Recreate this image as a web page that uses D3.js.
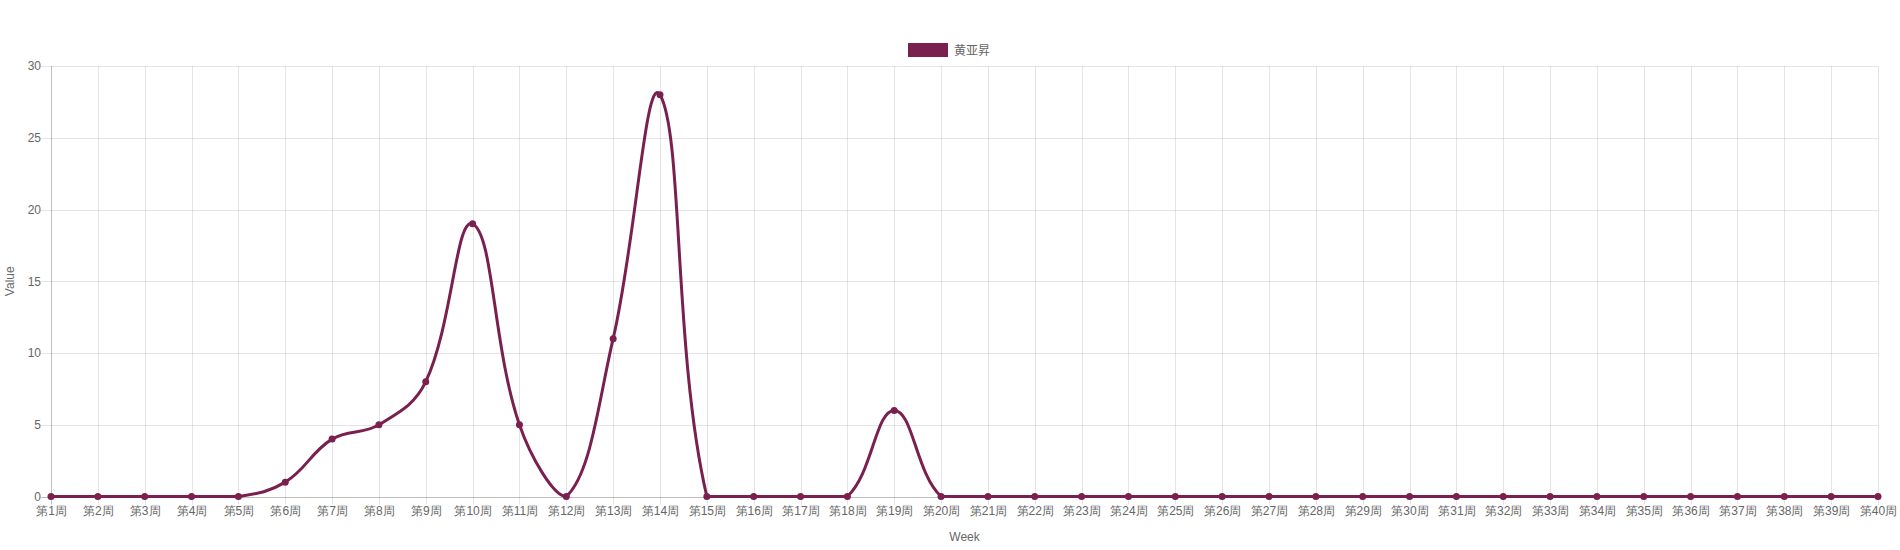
<!DOCTYPE html>
<html><head><meta charset="utf-8">
<script src="https://cdn.jsdelivr.net/npm/d3@7"></script>
<style>
html,body{margin:0;padding:0;background:#fff;}
svg{display:block;font-family:'Helvetica Neue',Helvetica,Arial,'Liberation Sans','Noto Sans CJK SC',sans-serif;}
</style></head>
<body>
<svg id="chart" width="1900" height="550"></svg>
<script>
const weeks = Array.from({length: 40}, (_, i) => `第${i + 1}周`);
const seriesName = "黄亚昇";
const values = [0,0,0,0,0,1,4,5,8,19,5,0,11,28,0,0,0,0,6,0,0,0,0,0,0,0,0,0,0,0,0,0,0,0,0,0,0,0,0,0];
const yTicks = [0,5,10,15,20,25,30];

(function(){
const color = "rgb(122,32,80)";
const pLeft = 51, pRight = 1878, pTop = 66, pBottom = 496.5;
const svg = d3.select("#chart");

const x = d3.scalePoint().domain(weeks).range([pLeft, pRight]);
const y = d3.scaleLinear().domain([0, 30]).range([pBottom, pTop]);

const g = svg.append("g");
g.selectAll("line.vg").data(weeks).join("line")
  .attr("x1", d => Math.round(x(d)) + 0.5).attr("x2", d => Math.round(x(d)) + 0.5)
  .attr("y1", pTop).attr("y2", pBottom + 8)
  .attr("stroke", (d,i) => i === 0 ? "rgba(0,0,0,0.25)" : "rgba(0,0,0,0.1)")
  .attr("stroke-width", 1);
g.selectAll("line.hg").data(yTicks).join("line")
  .attr("x1", pLeft - 10).attr("x2", pRight)
  .attr("y1", d => Math.round(y(d)) + 0.5).attr("y2", d => Math.round(y(d)) + 0.5)
  .attr("stroke", d => d === 0 ? "rgba(0,0,0,0.25)" : "rgba(0,0,0,0.1)")
  .attr("stroke-width", 1);

const yAxis = d3.axisLeft(y).tickValues(yTicks).tickSize(0).tickPadding(10);
const ya = svg.append("g").attr("transform", `translate(${pLeft},0)`).call(yAxis);
ya.select(".domain").remove();
ya.selectAll("text").attr("fill", "#666").attr("font-size", 12).attr("font-family", null);

const xAxis = d3.axisBottom(x).tickSize(0).tickPadding(10);
const xa = svg.append("g").attr("transform", `translate(0,${pBottom})`).call(xAxis);
xa.select(".domain").remove();
xa.selectAll("text").attr("fill", "#666").attr("font-size", 12).attr("font-family", null);

svg.append("text").attr("x", (pLeft + pRight) / 2).attr("y", 541)
  .attr("text-anchor", "middle").attr("fill", "#666").attr("font-size", 12).text("Week");
svg.append("text").attr("transform", `translate(14,${(pTop + pBottom) / 2}) rotate(-90)`)
  .attr("text-anchor", "middle").attr("fill", "#666").attr("font-size", 12).text("Value");

const lg = svg.append("g");
lg.append("rect").attr("x", 908).attr("y", 43).attr("width", 40).attr("height", 14).attr("fill", color);
lg.append("text").attr("x", 954).attr("y", 54.5).attr("fill", "#666").attr("font-size", 12).text(seriesName);

function chartjsCurve(context) {
  let pts = [];
  return {
    areaStart(){}, areaEnd(){},
    lineStart(){ pts = []; },
    point(px, py){ pts.push([px, py]); },
    lineEnd(){
      const t = 0.4, n = pts.length;
      const cps = pts.map((p, i) => {
        const prev = pts[Math.max(0, i - 1)], next = pts[Math.min(n - 1, i + 1)];
        const d01 = Math.hypot(p[0]-prev[0], p[1]-prev[1]);
        const d12 = Math.hypot(next[0]-p[0], next[1]-p[1]);
        let s01 = d01 / (d01 + d12), s12 = d12 / (d01 + d12);
        if (isNaN(s01)) s01 = 0; if (isNaN(s12)) s12 = 0;
        const fa = t * s01, fb = t * s12;
        return {
          prev: [p[0] - fa*(next[0]-prev[0]), p[1] - fa*(next[1]-prev[1])],
          next: [p[0] + fb*(next[0]-prev[0]), p[1] + fb*(next[1]-prev[1])]
        };
      });
      const clampY = v => Math.max(pTop, Math.min(pBottom, v));
      cps.forEach(c => { c.prev[1] = clampY(c.prev[1]); c.next[1] = clampY(c.next[1]); });
      context.moveTo(pts[0][0], pts[0][1]);
      for (let i = 1; i < n; i++) {
        context.bezierCurveTo(cps[i-1].next[0], cps[i-1].next[1], cps[i].prev[0], cps[i].prev[1], pts[i][0], pts[i][1]);
      }
    }
  };
}

const line = d3.line().x((d, i) => x(weeks[i])).y(d => y(d)).curve(chartjsCurve);
svg.append("path").datum(values).attr("d", line)
  .attr("fill", "none").attr("stroke", color).attr("stroke-width", 3);

svg.append("g").selectAll("circle").data(values).join("circle")
  .attr("cx", (d, i) => x(weeks[i])).attr("cy", d => y(d)).attr("r", 3.5)
  .attr("fill", color);
})();
</script>
</body></html>
